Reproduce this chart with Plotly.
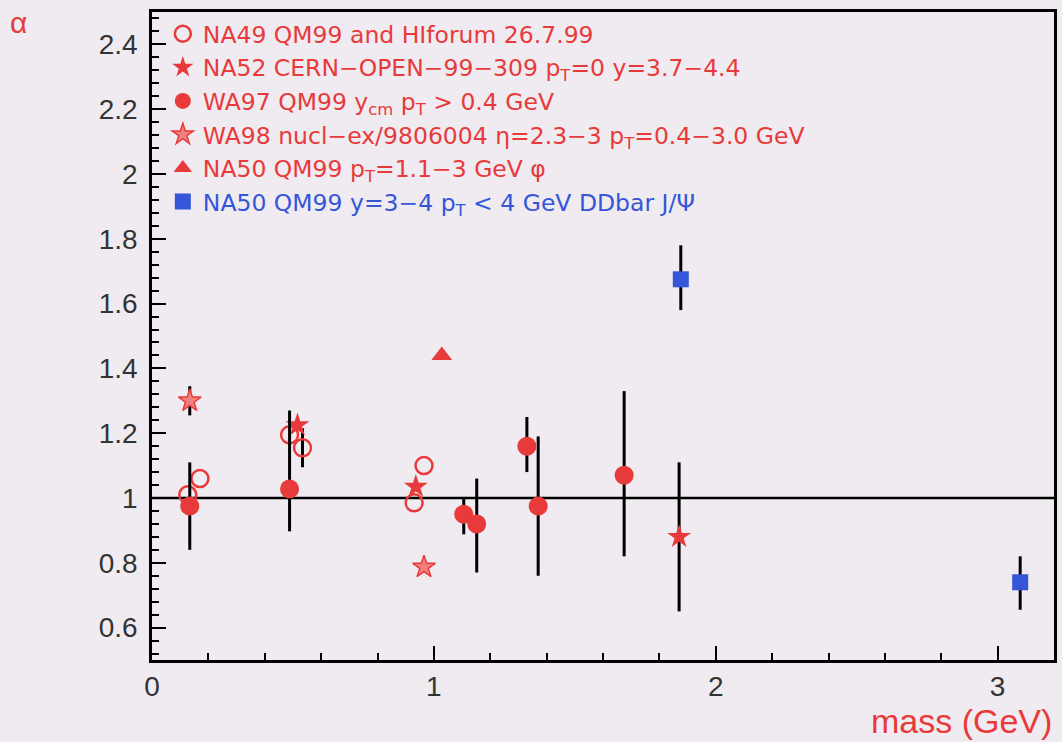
import plotly.graph_objects as go

# ---- data ----
na49_m = [0.127, 0.17, 0.488, 0.534, 0.93, 0.965]
na49_v = [1.01, 1.06, 1.195, 1.155, 0.985, 1.10]
na49_e = [0, 0, 0, 0.06, 0, 0]

na52_m = [0.516, 0.936, 1.87]
na52_v = [1.225, 1.035, 0.88]
na52_e = [0, 0, 0.23]

wa97_m = [0.134, 0.488, 1.106, 1.152, 1.33, 1.37, 1.675]
wa97_v = [0.975, 1.028, 0.95, 0.92, 1.16, 0.975, 1.07]
wa97_ep = [0.135, 0.242, 0.05, 0.14, 0.09, 0.215, 0.26]
wa97_em = [0.135, 0.131, 0.062, 0.15, 0.08, 0.215, 0.25]

wa98_m = [0.134, 0.965]
wa98_v = [1.30, 0.787]
wa98_e = [0.045, 0]

na50phi_m = [1.028]
na50phi_v = [1.44]

na50b_m = [1.876, 3.08]
na50b_v = [1.675, 0.74]
na50b_ep = [0.105, 0.08]
na50b_em = [0.095, 0.085]

x_ticks = [0, 1, 2, 3]
y_ticks = [0.6, 0.8, 1, 1.2, 1.4, 1.6, 1.8, 2, 2.2, 2.4]

names = [
    "NA49 QM99 and HIforum 26.7.99",
    "NA52 CERN\u2212OPEN\u221299\u2212309 p<sub>T</sub>=0 y=3.7\u22124.4",
    "WA97 QM99 y<sub>cm</sub> p<sub>T</sub> > 0.4 GeV",
    "WA98 nucl\u2212ex/9806004 \u03b7=2.3\u22123 p<sub>T</sub>=0.4\u22123.0 GeV",
    "NA50 QM99 p<sub>T</sub>=1.1\u22123 GeV \u03c6",
    "<span style='color:#3556d8'>NA50 QM99 y=3\u22124 p<sub>T</sub> < 4 GeV DDbar J/\u03a8</span>",
]

RED = "#e83a3a"
BLUE = "#3556d8"
BG = "#efebf1"

fig = go.Figure()

def ebar(p, m=None):
    d = dict(type="data", array=p, color="black", thickness=3, width=0, visible=True)
    if m is not None:
        d["arrayminus"] = m
        d["symmetric"] = False
    return d

fig.add_trace(go.Scatter(x=na49_m, y=na49_v, mode="markers", name=names[0],
    marker=dict(symbol="circle-open", size=17, color=RED, line=dict(width=2.5, color=RED)),
    error_y=ebar(na49_e)))
fig.add_trace(go.Scatter(x=na52_m, y=na52_v, mode="markers", name=names[1],
    marker=dict(symbol="star", size=18, color=RED, line=dict(width=0)),
    error_y=ebar(na52_e)))
fig.add_trace(go.Scatter(x=wa97_m, y=wa97_v, mode="markers", name=names[2],
    marker=dict(symbol="circle", size=19, color=RED, line=dict(width=0)),
    error_y=ebar(wa97_ep, wa97_em)))
fig.add_trace(go.Scatter(x=wa98_m, y=wa98_v, mode="markers", name=names[3],
    marker=dict(symbol="star", size=17, color="#f08080", line=dict(width=1.5, color=RED)),
    error_y=ebar(wa98_e)))
fig.add_trace(go.Scatter(x=na50phi_m, y=na50phi_v, mode="markers", name=names[4],
    marker=dict(symbol="triangle-up", size=18, color=RED, line=dict(width=0))))
fig.add_trace(go.Scatter(x=na50b_m, y=na50b_v, mode="markers", name=names[5],
    marker=dict(symbol="square", size=16, color=BLUE, line=dict(width=0)),
    error_y=ebar(na50b_ep, na50b_em)))

fig.add_hline(y=1, line=dict(color="black", width=2.5), layer="below")

TICKFONT = dict(family="Liberation Sans, Arial", size=28, color="#333333")
axis_common = dict(showgrid=False, zeroline=False, showline=True, linecolor="black",
                   linewidth=2.5, mirror=True, ticks="inside", tickcolor="black",
                   tickfont=TICKFONT)

fig.update_xaxes(range=[0, 3.2], tickvals=x_ticks, ticklen=14, tickwidth=2,
                 minor=dict(dtick=0.2, tick0=0, ticks="inside", ticklen=7, tickcolor="black", tickwidth=1.5),
                 **axis_common)
fig.update_yaxes(range=[0.5, 2.5], tickvals=y_ticks, ticklen=14, tickwidth=2, ticklabelstandoff=6,
                 minor=dict(dtick=0.04, tick0=0, ticks="inside", ticklen=7, tickcolor="black", tickwidth=1.5),
                 **axis_common)

fig.update_layout(
    width=1062, height=742,
    margin=dict(l=152, r=5, t=12, b=82),
    paper_bgcolor=BG, plot_bgcolor=BG,
    font=dict(family="DejaVu Sans", size=23, color=RED),
    legend=dict(x=0.012, y=1.0, xanchor="left", yanchor="top", bgcolor="rgba(0,0,0,0)",
                font=dict(family="DejaVu Sans", size=23.5, color=RED),
                itemwidth=30, tracegroupgap=0),
    annotations=[
        dict(text="mass (GeV)", xref="paper", yref="paper", x=1.0, y=0, yshift=-82,
             xanchor="right", yanchor="bottom", showarrow=False,
             font=dict(family="Liberation Sans, Arial", size=34, color=RED)),
        dict(text="\u03b1", xref="paper", yref="paper", x=0, y=1, xshift=-144, yshift=8,
             xanchor="left", yanchor="top", showarrow=False,
             font=dict(family="Liberation Sans, Arial", size=30, color=RED)),
    ],
)

fig.write_html("out.html")
